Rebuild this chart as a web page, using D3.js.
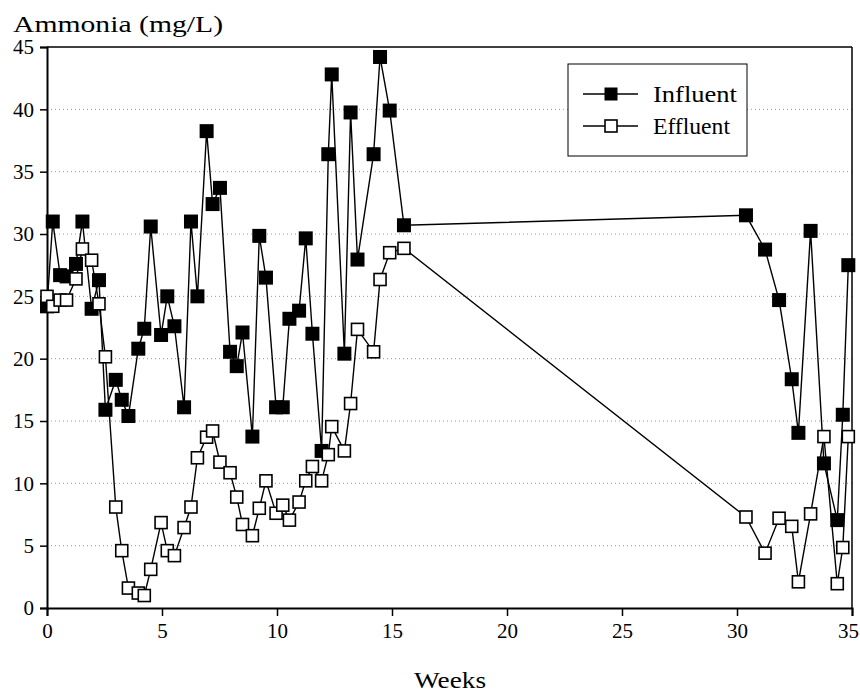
<!DOCTYPE html>
<html><head><meta charset="utf-8">
<script src="https://cdn.jsdelivr.net/npm/d3@7"></script>
<style>body{margin:0;background:#fff}svg{display:block}</style>
</head><body><svg id="c" width="860" height="700"></svg>
<script>
const weeks = [0,0.25,0.57,0.85,1.26,1.54,1.94,2.26,2.54,2.99,3.25,3.54,3.97,4.23,4.51,4.96,5.23,5.54,5.96,6.26,6.54,6.94,7.2,7.52,7.96,8.25,8.5,8.93,9.23,9.52,9.96,10.25,10.54,10.96,11.25,11.54,11.94,12.23,12.38,12.93,13.2,13.5,14.2,14.48,14.9,15.52,30.39,31.22,31.83,32.38,32.67,33.2,33.78,34.36,34.6,34.84];
const influent = [24.2,31.0,26.7,26.6,27.6,31.0,24.0,26.3,15.9,18.3,16.7,15.4,20.8,22.4,30.6,21.9,25.0,22.6,16.1,31.0,25.0,38.25,32.4,33.7,20.55,19.4,22.1,13.75,29.85,26.5,16.1,16.1,23.2,23.85,29.65,22.0,12.6,36.4,42.8,20.4,39.75,27.95,36.4,44.2,39.9,30.7,31.5,28.75,24.7,18.35,14.05,30.25,11.6,7.05,15.5,27.5];
const effluent = [25.0,24.2,24.7,24.7,26.4,28.8,27.9,24.4,20.15,8.1,4.6,1.6,1.2,1.0,3.1,6.85,4.6,4.2,6.45,8.1,12.05,13.7,14.2,11.7,10.85,8.9,6.7,5.8,8.0,10.2,7.6,8.25,7.05,8.5,10.2,11.35,10.2,12.3,14.55,12.6,16.4,22.35,20.55,26.35,28.5,28.85,7.3,4.4,7.2,6.55,2.1,7.55,13.75,1.95,4.85,13.75];
const xTicks = [0,5,10,15,20,25,30,35];
const yTicks = [0,5,10,15,20,25,30,35,40,45];
const gridTicks = [5,10,15,20,25,30,35,40];
const seriesNames = ["Influent","Effluent"];

const FONT = "'Liberation Serif','Times New Roman','DejaVu Serif',serif";
const svg = d3.select("#c");
const L=47,R=852,T=47,B=608;
const x = d3.scaleLinear().domain([0,35]).range([L,R]);
const y = d3.scaleLinear().domain([0,45]).range([B,T]);

// grid
svg.append("g").selectAll("line").data(gridTicks).join("line")
  .attr("x1",L).attr("x2",R).attr("y1",d=>y(d)).attr("y2",d=>y(d))
  .attr("stroke","#9a9a9a").attr("stroke-width",1).attr("stroke-dasharray","1,3");

// frame
svg.append("line").attr("x1",L).attr("x2",R).attr("y1",T).attr("y2",T).attr("stroke","#000").attr("stroke-width",1.5);
svg.append("line").attr("x1",R).attr("x2",R).attr("y1",T).attr("y2",B).attr("stroke","#000").attr("stroke-width",1.5);

const xa = svg.append("g").attr("transform",`translate(0,${B})`)
  .call(d3.axisBottom(x).tickValues(xTicks).tickSize(8).tickPadding(7).tickFormat(d3.format("d")));
const ya = svg.append("g").attr("transform",`translate(${L},0)`)
  .call(d3.axisLeft(y).tickValues(yTicks).tickSize(7).tickPadding(6).tickFormat(d3.format("d")));
[xa,ya].forEach(a=>{
  a.attr("font-family",FONT).attr("font-size",21);
  a.select(".domain").attr("stroke","#000").attr("stroke-width",2);
  a.selectAll(".tick line").attr("stroke","#000").attr("stroke-width",1.5);
  a.selectAll("text").attr("fill","#000");
});
xa.selectAll(".tick text").filter(d=>d===35).attr("dx",-4);

svg.append("text").attr("x",13).attr("y",32).attr("font-family",FONT).attr("font-size",24)
  .attr("textLength",210).attr("lengthAdjust","spacingAndGlyphs").text("Ammonia (mg/L)");
svg.append("text").attr("x",450).attr("y",688).attr("text-anchor","middle").attr("font-family",FONT).attr("font-size",23)
  .attr("textLength",72).attr("lengthAdjust","spacingAndGlyphs").text("Weeks");

const line = d3.line().x((d,i)=>x(weeks[i])).y(d=>y(d));
const data = [influent,effluent];
data.forEach((vals,k)=>{
  svg.append("path").datum(vals).attr("d",line).attr("fill","none").attr("stroke","#000").attr("stroke-width",1.4);
});
data.forEach((vals,k)=>{
  const s = k===0?14:12;
  svg.append("g").selectAll("rect").data(vals).join("rect")
    .attr("x",(d,i)=>x(weeks[i])-s/2).attr("y",d=>y(d)-s/2)
    .attr("width",s).attr("height",s)
    .attr("fill",k===0?"#000":"#fff").attr("stroke","#000").attr("stroke-width",k===0?0:1.6);
});

// legend
const lg = svg.append("g");
lg.append("rect").attr("x",568).attr("y",64).attr("width",179).attr("height",92).attr("fill","#fff").attr("stroke","#000").attr("stroke-width",1);
const legW = [84,77];
seriesNames.forEach((n,k)=>{
  const yy = 94 + k*32;
  lg.append("line").attr("x1",583).attr("x2",638).attr("y1",yy).attr("y2",yy).attr("stroke","#000").attr("stroke-width",1.4);
  const s = k===0?13:12;
  lg.append("rect").attr("x",611-s/2).attr("y",yy-s/2).attr("width",s).attr("height",s)
    .attr("fill",k===0?"#000":"#fff").attr("stroke","#000").attr("stroke-width",k===0?0:1.6);
  lg.append("text").attr("x",653).attr("y",yy+8).attr("font-family",FONT).attr("font-size",23)
    .attr("textLength",legW[k]).attr("lengthAdjust","spacingAndGlyphs").text(n);
});
</script></body></html>
